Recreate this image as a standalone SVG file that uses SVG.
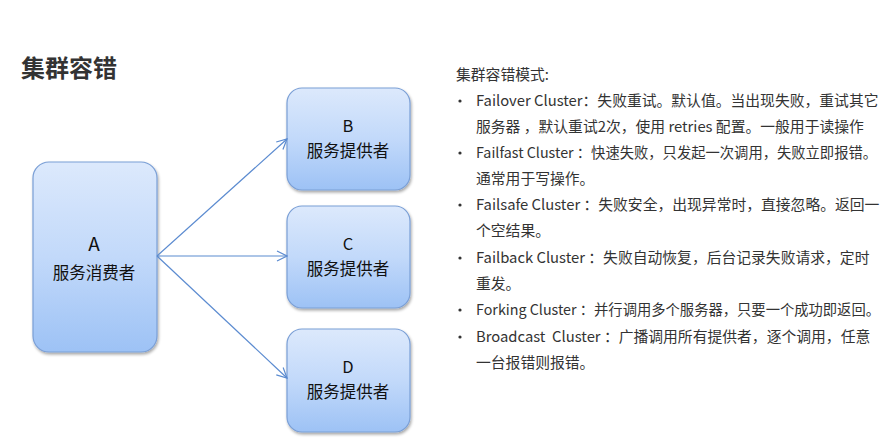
<svg xmlns="http://www.w3.org/2000/svg" width="886" height="442" viewBox="0 0 886 442">
<defs>
<linearGradient id="g" x1="0" y1="0" x2="0" y2="1">
<stop offset="0" stop-color="#dce9fc"/>
<stop offset="0.5" stop-color="#c2d9fa"/>
<stop offset="1" stop-color="#9dc2f5"/>
</linearGradient>
<filter id="sh" x="-10%" y="-10%" width="130%" height="130%">
<feGaussianBlur in="SourceAlpha" stdDeviation="1.5"/>
<feOffset dx="1" dy="2"/>
<feComponentTransfer><feFuncA type="linear" slope="0.35"/></feComponentTransfer>
<feMerge><feMergeNode/><feMergeNode in="SourceGraphic"/></feMerge>
</filter>
<marker id="arr" viewBox="0 0 12 12" refX="11" refY="6" markerWidth="12" markerHeight="12" markerUnits="userSpaceOnUse" orient="auto">
<path d="M1,1 L11,6 L1,11" fill="none" stroke="#5b8bd0" stroke-width="1.2"/>
</marker>
</defs>
<style>
.box{fill:url(#g);stroke:#7a9fd6;stroke-width:1.2;filter:url(#sh)}
.lbl{font-family:"Noto Sans CJK SC","Liberation Sans",sans-serif;fill:#111;text-anchor:middle;font-size:16.5px}
.edge{stroke:#5b8bd0;stroke-width:1.2;fill:none;marker-end:url(#arr)}
.t{font-family:"Noto Sans CJK SC","Liberation Sans",sans-serif;fill:#333;font-size:14.8px}
.s{font-size:14.3px}
.title{font-family:"Noto Sans CJK SC","Liberation Sans",sans-serif;fill:#333;font-size:24px;font-weight:bold}
</style>
<rect width="886" height="442" fill="#ffffff"/>
<text class="title" x="21" y="77">集群容错</text>
<g id="nodeA">
<rect class="box" x="33" y="162" width="124" height="190" rx="16"/>
<text class="lbl" x="94" y="251" style="font-size:19px">A</text>
<text class="lbl" x="94" y="279">服务消费者</text>
</g>
<g id="nodeB">
<rect class="box" x="287" y="88" width="123" height="102" rx="15"/>
<text class="lbl" x="348" y="132">B</text>
<text class="lbl" x="348" y="157">服务提供者</text>
</g>
<g id="nodeC">
<rect class="box" x="287" y="206" width="123" height="102" rx="15"/>
<text class="lbl" x="348" y="250">C</text>
<text class="lbl" x="348" y="275">服务提供者</text>
</g>
<g id="nodeD">
<rect class="box" x="287" y="329" width="123" height="103" rx="15"/>
<text class="lbl" x="348" y="373">D</text>
<text class="lbl" x="348" y="398">服务提供者</text>
</g>
<g id="connectors">
<line class="edge" x1="157" y1="256" x2="287" y2="139"/>
<line class="edge" x1="157" y1="256" x2="287" y2="256"/>
<line class="edge" x1="157" y1="256" x2="287" y2="378"/>
</g>
<g id="notes">
<text class="t" x="456" y="80">集群容错模式:</text>
<g fill="#333">
<circle cx="460" cy="101" r="1.6"/>
<circle cx="460" cy="153" r="1.6"/>
<circle cx="460" cy="205" r="1.6"/>
<circle cx="460" cy="258" r="1.6"/>
<circle cx="460" cy="310" r="1.6"/>
<circle cx="460" cy="337" r="1.6"/>
</g>
<text class="t" x="476" y="106">Failover Cluster：失败重试。默认值。当出现失败，重试其它</text>
<text class="t" x="476" y="132">服务器 ，默认重试2次，使用 retries 配置。一般用于读操作</text>
<text class="t s" x="476" y="158">Failfast Cluster ：快速失败，只发起一次调用，失败立即报错。</text>
<text class="t" x="476" y="184">通常用于写操作。</text>
<text class="t" x="476" y="210">Failsafe Cluster ：失败安全，出现异常时，直接忽略。返回一</text>
<text class="t" x="476" y="236">个空结果。</text>
<text class="t" x="476" y="263">Failback Cluster ：失败自动恢复，后台记录失败请求，定时</text>
<text class="t" x="476" y="289">重发。</text>
<text class="t s" x="476" y="315">Forking Cluster ：并行调用多个服务器，只要一个成功即返回。</text>
<text class="t" x="476" y="342">Broadcast&#160; Cluster ：广播调用所有提供者，逐个调用，任意</text>
<text class="t" x="476" y="368">一台报错则报错。</text>
</g>
</svg>
